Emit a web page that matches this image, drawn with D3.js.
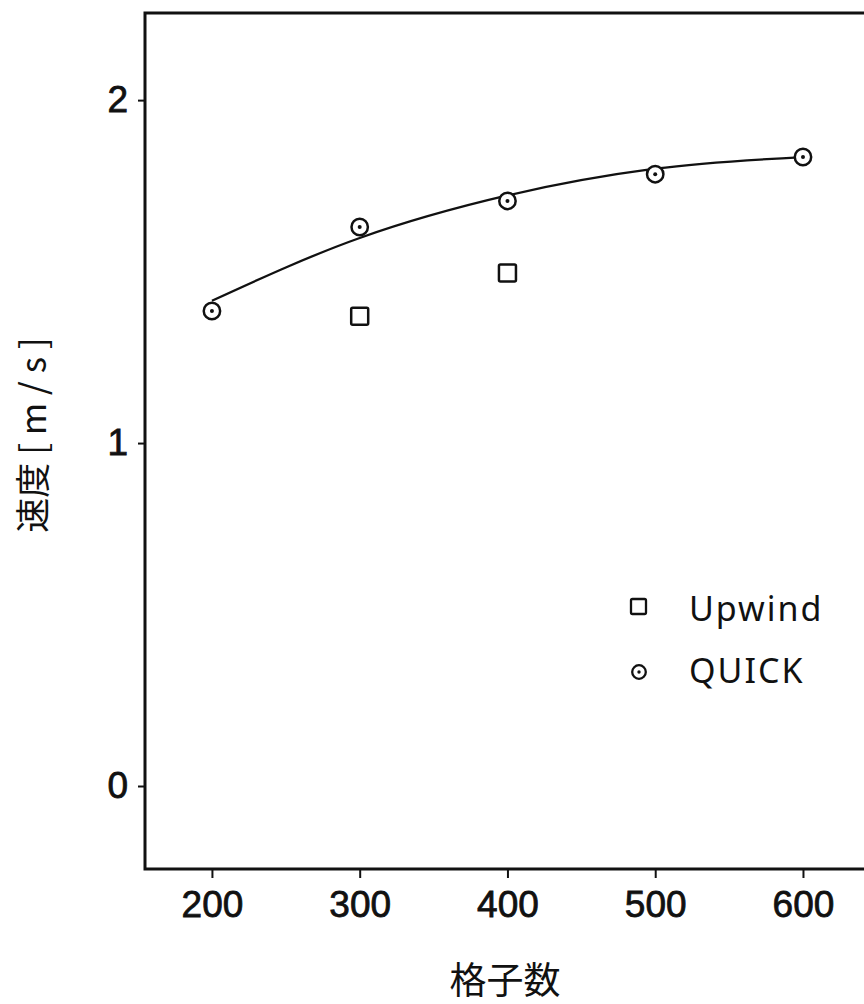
<!DOCTYPE html>
<html>
<head>
<meta charset="utf-8">
<script src="https://cdn.jsdelivr.net/npm/d3@7"></script>
<style>
  html, body { margin: 0; padding: 0; background: #fff; }
  svg { display: block; }
</style>
</head>
<body>
<svg id="chart" width="864" height="1004"></svg>
<script>
// Grid-count study: velocity vs number of grid cells
const gridCounts = [200, 300, 400, 500, 600];
const quickValues = [1.385, 1.63, 1.706, 1.784, 1.834];

const upwindCounts = [300, 400];
const upwindValues = [1.37, 1.496];

// Smooth fitted trend through the QUICK results
const fitCounts = [200, 300, 400, 500, 600];
const fitValues = [1.415, 1.598, 1.722, 1.800, 1.834];

const xTicks = [200, 300, 400, 500, 600];
const yTicks = [0, 1, 2];

const legendLabels = ["Upwind", "QUICK"];

const svg = d3.select("#chart");
const plotL = 145, plotR = 864, plotT = 13, plotB = 869;

const x = d3.scaleLinear().domain([154.7, 641.3]).range([plotL, plotR]);
const y = d3.scaleLinear().domain([-0.242, 2.254]).range([plotB, plotT]);

const ink = "#111";
const tickFont = "'Liberation Sans', Arial, sans-serif";

// frame: left, top, bottom
svg.append("path")
  .attr("d", `M${plotR},${plotT} L${plotL},${plotT} L${plotL},${plotB} L${plotR},${plotB}`)
  .attr("fill", "none").attr("stroke", ink).attr("stroke-width", 3);

// axes
const xAxis = svg.append("g")
  .attr("transform", `translate(0,${plotB})`)
  .call(d3.axisBottom(x).tickValues(xTicks).tickSize(9).tickSizeOuter(0)
    .tickPadding(13).tickFormat(d3.format("d")));
xAxis.select(".domain").remove();
xAxis.selectAll("line").attr("stroke", ink).attr("stroke-width", 2);
xAxis.selectAll("text")
  .attr("fill", ink).attr("stroke", ink).attr("stroke-width", 0.8)
  .style("font-family", tickFont)
  .style("font-size", "37px");

const yAxis = svg.append("g")
  .attr("transform", `translate(${plotL},0)`)
  .call(d3.axisLeft(y).tickValues(yTicks).tickSize(7).tickSizeOuter(0)
    .tickPadding(10).tickFormat(d3.format("d")));
yAxis.select(".domain").remove();
yAxis.selectAll("line").attr("stroke", ink).attr("stroke-width", 2);
yAxis.selectAll("text")
  .attr("fill", ink).attr("stroke", ink).attr("stroke-width", 0.8)
  .style("font-family", tickFont)
  .style("font-size", "37px");

// fitted curve
const line = d3.line()
  .x((d, i) => x(fitCounts[i]))
  .y(d => y(d))
  .curve(d3.curveMonotoneX);
svg.append("path")
  .datum(fitValues)
  .attr("d", line)
  .attr("fill", "none").attr("stroke", ink).attr("stroke-width", 2.3);

// QUICK markers: circle with centre dot
const quick = svg.append("g");
gridCounts.forEach((g, i) => {
  quick.append("circle")
    .attr("cx", x(g)).attr("cy", y(quickValues[i])).attr("r", 8.2)
    .attr("fill", "#fff").attr("stroke", ink).attr("stroke-width", 2.5);
  quick.append("circle")
    .attr("cx", x(g)).attr("cy", y(quickValues[i])).attr("r", 2)
    .attr("fill", ink);
});

// Upwind markers: open squares
const upw = svg.append("g");
upwindCounts.forEach((g, i) => {
  const s = 17;
  upw.append("rect")
    .attr("x", x(g) - s / 2).attr("y", y(upwindValues[i]) - s / 2)
    .attr("width", s).attr("height", s).attr("rx", 1.5)
    .attr("fill", "#fff").attr("stroke", ink).attr("stroke-width", 2.5);
});

// legend
const legendFont = "'Noto Sans', 'DejaVu Sans', sans-serif";
const lg = svg.append("g");
lg.append("rect")
  .attr("x", 631).attr("y", 599).attr("width", 15).attr("height", 15).attr("rx", 1.5)
  .attr("fill", "#fff").attr("stroke", ink).attr("stroke-width", 2.3);
lg.append("circle").attr("cx", 639).attr("cy", 672).attr("r", 6.8)
  .attr("fill", "#fff").attr("stroke", ink).attr("stroke-width", 2.3);
lg.append("circle").attr("cx", 639).attr("cy", 672).attr("r", 1.7).attr("fill", ink);
lg.selectAll("text.lbl")
  .data(legendLabels)
  .enter().append("text")
  .attr("class", "lbl")
  .attr("x", 689)
  .attr("y", (d, i) => 621 + i * 62)
  .attr("fill", ink)
  .style("font-family", legendFont)
  .style("font-size", "34px")
  .style("letter-spacing", "2px")
  .text(d => d);

// axis titles
svg.append("text")
  .attr("x", 505).attr("y", 994)
  .attr("text-anchor", "middle")
  .attr("fill", ink)
  .style("font-family", "'Noto Sans CJK JP', sans-serif")
  .style("font-size", "37px")
  .text("格子数");

svg.append("text")
  .attr("transform", "translate(46,435) rotate(-90)")
  .attr("text-anchor", "middle")
  .attr("fill", ink)
  .style("font-family", "'Noto Sans CJK JP', sans-serif")
  .style("font-size", "35px")
  .text("速度 [ m / s ]");
</script>
</body>
</html>
